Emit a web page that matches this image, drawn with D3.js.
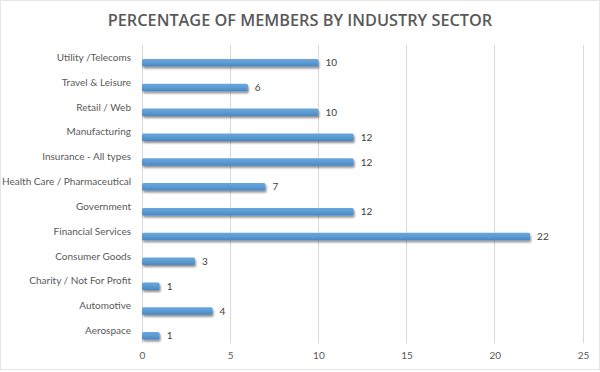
<!DOCTYPE html>
<html><head><meta charset="utf-8">
<script src="https://cdn.jsdelivr.net/npm/d3@7"></script>
<style>body{margin:0;background:#fff}svg{display:block}</style>
</head><body>
<script>
const categories = ["Utility /Telecoms","Travel & Leisure","Retail / Web","Manufacturing","Insurance - All types","Health Care / Pharmaceutical","Government","Financial Services","Consumer Goods","Charity / Not For Profit","Automotive","Aerospace"];
const values = [10,6,10,12,12,7,12,22,3,1,4,1];
const tickValues = [0,5,10,15,20,25];
const title = "PERCENTAGE OF MEMBERS BY INDUSTRY SECTOR";

const W=600,H=372;
const svg=d3.select("body").append("svg").attr("width",W).attr("height",H);
const font="'Open Sans', 'Liberation Sans', sans-serif";
const lfont="Lato, 'Open Sans', sans-serif";
const defs=svg.append("defs");
const f=defs.append("filter").attr("id","sh").attr("x","-10%").attr("y","-50%").attr("width","120%").attr("height","250%");
f.append("feGaussianBlur").attr("in","SourceAlpha").attr("stdDeviation",0.8).attr("result","b");
f.append("feOffset").attr("in","b").attr("dx",1).attr("dy",1.5).attr("result","o");
f.append("feComponentTransfer").attr("in","o").attr("result","o2").append("feFuncA").attr("type","linear").attr("slope",0.45);
const fm=f.append("feMerge");fm.append("feMergeNode").attr("in","o2");fm.append("feMergeNode").attr("in","SourceGraphic");
const g=defs.append("linearGradient").attr("id","bg").attr("x1",0).attr("y1",0).attr("x2",0).attr("y2",1);
g.append("stop").attr("offset","0%").attr("stop-color","#6aa6dc");
g.append("stop").attr("offset","50%").attr("stop-color","#5b9bd5");
g.append("stop").attr("offset","100%").attr("stop-color","#4a86bf");

svg.append("rect").attr("x",0.5).attr("y",0.5).attr("width",W-1).attr("height",H-3).attr("fill","none").attr("stroke","#e6e6e6");

svg.append("text").attr("x",300).attr("y",26).attr("text-anchor","middle")
  .attr("font-family",font).attr("font-size",16.3).attr("font-weight",600).attr("fill","#595959").text(title);

const x=d3.scaleLinear().domain([0,25]).range([142,583]);
const y=d3.scaleBand().domain(categories).range([45,343]);

const grid=svg.append("g");
grid.selectAll("line").data(tickValues).join("line")
  .attr("x1",d=>x(d)).attr("x2",d=>x(d)).attr("y1",45).attr("y2",343)
  .attr("stroke","#d9d9d9").attr("stroke-width",1).attr("shape-rendering","crispEdges");

const xa=d3.axisBottom(x).tickValues(tickValues).tickSize(0).tickPadding(0);
const xg=svg.append("g").attr("transform","translate(0,359)").call(xa);
xg.select(".domain").remove();
xg.selectAll("text").attr("font-family",lfont).attr("font-size",10).attr("fill","#595959").attr("dy",0);

const ya=d3.axisLeft(y).tickSize(0).tickPadding(0);
const yg=svg.append("g").attr("transform","translate(131,0)").call(ya);
yg.select(".domain").remove();
yg.selectAll("text").attr("font-family",lfont).attr("font-size",10).attr("fill","#595959").attr("dy","0.35em");

const bh=7.5;
const data=categories.map((c,i)=>({c,v:values[i]}));
svg.append("g").selectAll("rect").data(data).join("rect")
  .attr("x",x(0)).attr("y",d=>y(d.c)+y.bandwidth()/2+1.5).attr("height",bh)
  .attr("width",d=>x(d.v)-x(0)).attr("rx",1.5).attr("fill","url(#bg)").attr("filter","url(#sh)");

svg.append("g").selectAll("text").data(data).join("text")
  .attr("x",d=>x(d.v)+7).attr("y",d=>y(d.c)+y.bandwidth()/2+5.25).attr("dy","0.35em")
  .attr("font-family",lfont).attr("font-size",10).attr("fill","#404040").text(d=>d.v);
</script>
</body></html>
